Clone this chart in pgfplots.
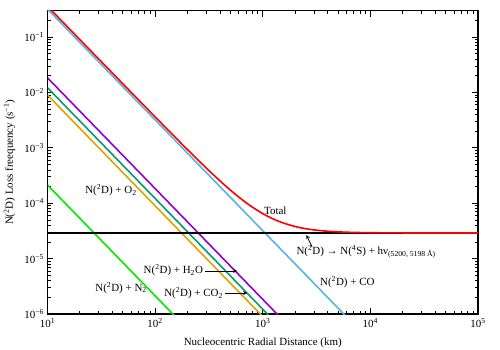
\documentclass[border=0pt]{standalone}
\usepackage{fontspec}
\setmainfont{Liberation Serif}
\usepackage{pgfplots}
\pgfplotsset{compat=1.18}
\definecolor{cCO}{RGB}{86,180,233}
\definecolor{cHtwoO}{RGB}{148,0,211}
\definecolor{cCOtwo}{RGB}{0,158,115}
\definecolor{cOtwo}{RGB}{230,159,0}
\definecolor{cNtwo}{RGB}{0,235,0}
\newcommand{\ND}{N(\textsuperscript{2}D)}
\begin{document}
\begin{tikzpicture}
\path[use as bounding box] (0,0) rectangle (500bp,350bp);
\begin{axis}[
  at={(47.5bp,36bp)}, anchor=south west,
  width=430.5bp, height=303.3bp, scale only axis,
  xmode=log, ymode=log,
  xmin=10, xmax=1e5, ymin=1e-6, ymax=0.3,
  font=\fontsize{11}{13}\selectfont,
  xtick={10,100,1000,10000,100000},
  xticklabels={10\textsuperscript{1},10\textsuperscript{2},10\textsuperscript{3},10\textsuperscript{4},10\textsuperscript{5}},
  minor xtick={20,30,40,50,60,70,80,90,200,300,400,500,600,700,800,900,
    2000,3000,4000,5000,6000,7000,8000,9000,20000,30000,40000,50000,60000,70000,80000,90000},
  ytick={1e-6,1e-5,1e-4,1e-3,1e-2,1e-1},
  yticklabels={10\textsuperscript{−6},10\textsuperscript{−5},10\textsuperscript{−4},10\textsuperscript{−3},10\textsuperscript{−2},10\textsuperscript{−1}},
  minor ytick={2e-6,3e-6,4e-6,5e-6,6e-6,7e-6,8e-6,9e-6,
    2e-5,3e-5,4e-5,5e-5,6e-5,7e-5,8e-5,9e-5,
    2e-4,3e-4,4e-4,5e-4,6e-4,7e-4,8e-4,9e-4,
    2e-3,3e-3,4e-3,5e-3,6e-3,7e-3,8e-3,9e-3,
    2e-2,3e-2,4e-2,5e-2,6e-2,7e-2,8e-2,9e-2,2e-1},
  tick align=inside,
  major tick length=6bp, minor tick length=3.5bp,
  tick style={black, line width=0.8bp},
  axis line style={line width=1.2bp},
  xticklabel style={yshift=-1bp},
  xlabel={Nucleocentric Radial Distance (km)},
  ylabel={\ND{} Loss freequency (s\textsuperscript{−1})},
  xlabel style={at={(axis description cs:0.5,-0.095)}, anchor=center},
  ylabel style={at={(axis description cs:-0.088,0.5)}, anchor=center},
  every axis plot/.append style={line width=1.6bp, mark=none},
]
\addplot[cCO] coordinates {(10,0.32) (10000,3.2e-7)};
\addplot[cHtwoO] coordinates {(10,1.84e-2) (2000,4.6e-7)};
\addplot[cCOtwo] coordinates {(10,1.22e-2) (2000,3.05e-7)};
\addplot[cOtwo] coordinates {(10,9.0e-3) (2000,2.25e-7)};
\addplot[cNtwo] coordinates {(10,2.13e-4) (200,5.33e-7)};
\addplot[black, line width=1.2bp] coordinates {(10,2.9e-5) (100000,2.9e-5)};
\addplot[red, smooth] coordinates {
 (10,0.36003) (20,0.090029) (30,0.040029) (50,0.014429) (70,0.007376)
 (100,0.003629) (150,0.001629) (200,9.29e-4) (300,4.29e-4) (400,2.54e-4)
 (500,1.73e-4) (600,1.29e-4) (700,1.025e-4) (800,8.525e-5) (1000,6.5e-5)
 (1200,5.4e-5) (1500,4.5e-5) (2000,3.8e-5) (2500,3.476e-5) (3000,3.3e-5)
 (4000,3.125e-5) (5000,3.044e-5) (6000,3.0e-5) (7000,2.9735e-5)
 (10000,2.936e-5) (15000,2.916e-5) (20000,2.909e-5) (100000,2.9e-5)};

\node at (axis cs:38.9,1.73e-4) {\ND{} + O\textsubscript{2}};
\node at (axis cs:1307,7.2e-5) {Total};
\node[anchor=east, inner sep=1bp] at (axis cs:285.6,6.2e-6) {\ND{} + H\textsubscript{2}O};
\draw[-stealth, line width=0.8bp] (axis cs:291.8,5.98e-6) -- (axis cs:579,5.98e-6);
\node[anchor=east, inner sep=1bp] at (axis cs:438,2.39e-6) {\ND{} + CO\textsubscript{2}};
\draw[-stealth, line width=0.8bp] (axis cs:448,2.39e-6) -- (axis cs:717,2.39e-6);
\node at (axis cs:48.3,2.95e-6) {\ND{} + N\textsubscript{2}};
\node at (axis cs:6109,3.78e-6) {\ND{} + CO};
\node[anchor=west, inner sep=0pt] at (axis cs:2051,1.32e-5) {\ND{} → N(\textsuperscript{4}S) + hν\textsubscript{(5200, 5198 Å)}};
\draw[-stealth, line width=0.8bp] (axis cs:2870,1.64e-5) -- (axis cs:2541,2.67e-5);
\end{axis}
\end{tikzpicture}
\end{document}
